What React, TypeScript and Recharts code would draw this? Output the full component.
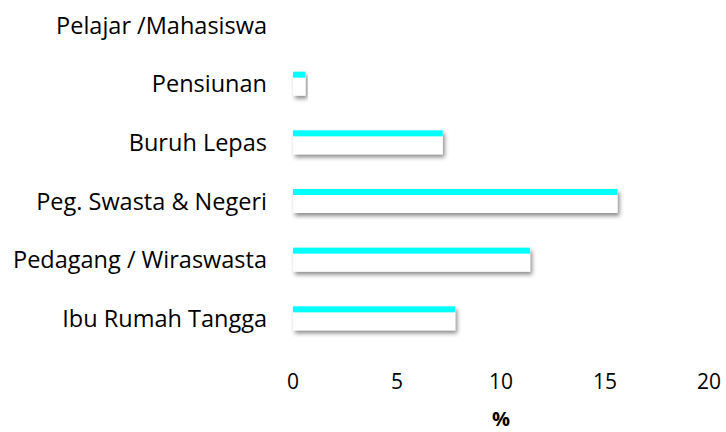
import React from 'react';
import { BarChart, Bar, XAxis, YAxis, Label } from 'recharts';

const categories = [
  'Pelajar /Mahasiswa',
  'Pensiunan',
  'Buruh Lepas',
  'Peg. Swasta & Negeri',
  'Pedagang / Wiraswasta',
  'Ibu Rumah Tangga',
];
const values = [0, 0.6, 7.2, 15.6, 11.4, 7.8];
const xTicks = [0, 5, 10, 15, 20];

const data = categories.map((name, i) => ({ name, value: values[i] }));

const FONT = '"Open Sans", Lato, sans-serif';

const BarShape = (props: any) => {
  const { x, y, width, height } = props;
  if (!width || width <= 0) return null;
  return (
    <g>
      <rect x={x} y={y} width={width} height={height} fill="#ffffff" filter="url(#barShadow)" />
      <rect x={x} y={y} width={width} height={6} fill="#00ffff" />
    </g>
  );
};

export default function App() {
  return (
    <div style={{ position: 'absolute', left: 0, top: 0, width: 726, height: 432, background: '#fff' }}>
      <BarChart
        width={726}
        height={432}
        data={data}
        layout="vertical"
        margin={{ top: -4, right: 17, bottom: 0, left: 0 }}
      >
        <defs>
          <filter id="barShadow" x="-10%" y="-50%" width="130%" height="250%">
            <feDropShadow dx="2" dy="3" stdDeviation="2" floodColor="#000000" floodOpacity="0.45" />
          </filter>
        </defs>
        <XAxis
          type="number"
          domain={[0, 20]}
          ticks={xTicks}
          axisLine={false}
          tickLine={false}
          tickSize={0}
          tickMargin={26}
          height={84}
          tick={{ fill: '#000', fontSize: 21, fontFamily: FONT }}
        >
          <Label value="%" position="insideBottom" offset={6} style={{ fill: '#000', fontSize: 20, fontWeight: 'bold', fontFamily: FONT }} />
        </XAxis>
        <YAxis
          type="category"
          dataKey="name"
          width={293}
          axisLine={false}
          tickLine={false}
          tickSize={0}
          tickMargin={26}
          interval={0}
          tick={{ fill: '#000', fontSize: 23.5, fontFamily: FONT }}
        />
        <Bar dataKey="value" barSize={24} shape={<BarShape />} isAnimationActive={false} />
      </BarChart>
    </div>
  );
}
